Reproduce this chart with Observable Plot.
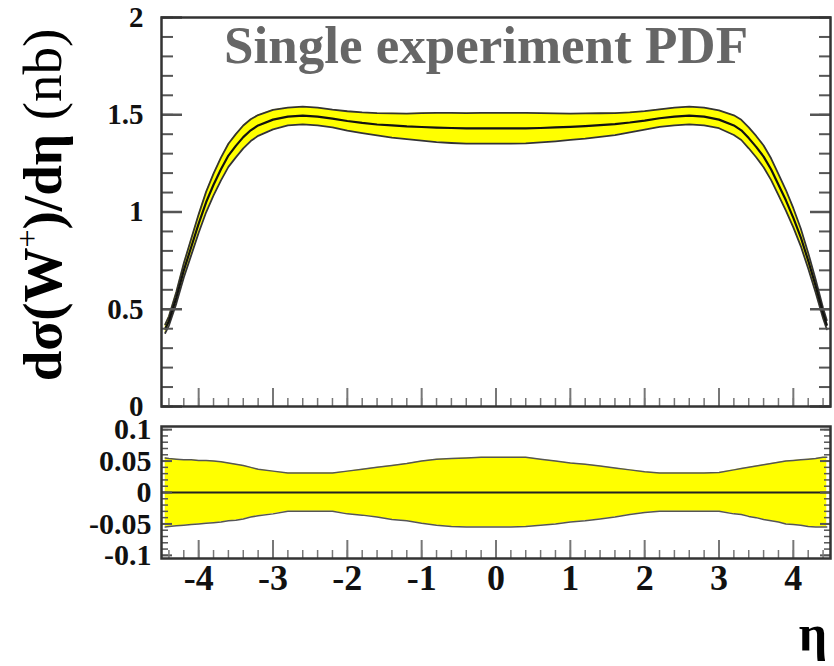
<!DOCTYPE html>
<html><head><meta charset="utf-8">
<script src="https://cdn.jsdelivr.net/npm/d3@7"></script>
<script src="https://cdn.jsdelivr.net/npm/@observablehq/plot@0.6"></script>
<style>
body{margin:0;background:#fff;}
#wrap{position:relative;width:834px;height:666px;overflow:hidden;background:#fff;}
#top,#bot{position:absolute;left:0;}
#top{top:0;z-index:1}
#bot{top:396px;z-index:2}
</style></head><body><div id="wrap"><div id="top"></div><div id="bot"></div></div>
<script>
// pseudorapidity grid
const eta = [-4.45,-4.4,-4.3,-4.2,-4.1,-4.0,-3.9,-3.8,-3.7,-3.6,
  -3.5,-3.4,-3.3,-3.2,-3.0,-2.8,-2.6,-2.4,-2.2,-2.0,
  -1.8,-1.6,-1.4,-1.2,-1.0,-0.8,-0.6,-0.4,-0.2,0,
  0.2,0.4,0.6,0.8,1.0,1.2,1.4,1.6,1.8,2.0,
  2.2,2.4,2.6,2.8,3.0,3.2,3.3,3.4,3.5,3.6,
  3.7,3.8,3.9,4.0,4.1,4.2,4.3,4.4,4.45];
// central dsigma/deta (nb)
const central = [0.40,0.44,0.56,0.70,0.82,0.94,1.05,1.14,1.22,1.29,
  1.34,1.385,1.42,1.445,1.475,1.49,1.495,1.49,1.48,1.468,
  1.458,1.45,1.445,1.44,1.437,1.434,1.432,1.43,1.43,1.43,
  1.43,1.43,1.432,1.435,1.438,1.442,1.447,1.452,1.46,1.47,
  1.482,1.49,1.495,1.49,1.475,1.445,1.42,1.38,1.335,1.285,
  1.22,1.14,1.06,0.97,0.87,0.75,0.62,0.48,0.42];
// relative uncertainty, upper edge
const relUp = [0.055,0.054,0.053,0.052,0.052,0.051,0.051,0.050,0.049,0.047,
  0.045,0.043,0.040,0.037,0.034,0.031,0.031,0.031,0.031,0.034,
  0.037,0.040,0.043,0.046,0.050,0.053,0.054,0.055,0.056,0.056,
  0.056,0.056,0.053,0.050,0.047,0.045,0.042,0.039,0.036,0.033,
  0.031,0.031,0.031,0.031,0.032,0.036,0.038,0.040,0.042,0.044,
  0.046,0.048,0.050,0.051,0.052,0.053,0.054,0.056,0.056];
// relative uncertainty, lower edge
const relDown = [-0.055,-0.054,-0.053,-0.052,-0.051,-0.050,-0.049,-0.048,-0.047,-0.045,
  -0.044,-0.042,-0.039,-0.037,-0.034,-0.030,-0.030,-0.030,-0.030,-0.034,
  -0.036,-0.039,-0.043,-0.045,-0.049,-0.052,-0.054,-0.055,-0.055,-0.055,
  -0.055,-0.054,-0.052,-0.050,-0.047,-0.045,-0.042,-0.039,-0.035,-0.032,
  -0.030,-0.030,-0.030,-0.030,-0.030,-0.034,-0.035,-0.038,-0.040,-0.043,
  -0.045,-0.047,-0.050,-0.051,-0.052,-0.054,-0.055,-0.055,-0.055];

const xMajor = [-4,-3,-2,-1,0,1,2,3,4];
const yTopMajor = [0,0.5,1,1.5,2];
const yTopLabels = ["0","0.5","1","1.5","2"];
const yBotMajor = [-0.1,-0.05,0,0.05,0.1];
const yBotLabels = ["-0.1","-0.05","0","0.05","0.1"];
const titleText = "Single experiment PDF";

const rows = eta.map((e,i)=>({eta:e, c:central[i],
  hi: central[i]*(1+relUp[i]), lo: central[i]*(1+relDown[i]),
  up: relUp[i], dn: relDown[i]}));

const serif = "'Liberation Serif','DejaVu Serif',serif";
const ML = 161, MR = 4;
const xDom = [-4.5, 4.5];
const xMinor = d3.range(-4.4, 4.41, 0.2).map(v=>+v.toFixed(2));
const yTopMinor = d3.range(0, 2.001, 0.1).map(v=>+v.toFixed(2));
const yBotMinor = d3.range(-0.1, 0.1001, 0.01).map(v=>+v.toFixed(3));
const tickColor = "#555";
const blank = () => "";

function tickY(anchor, ticks, size, stroke, sw) {
  return Plot.axisY({anchor, ticks, tickSize:size, tickFormat:blank, label:null, stroke, strokeWidth:sw});
}
function tickX(ticks, size, stroke, sw) {
  return Plot.axisX({anchor:"bottom", ticks, tickSize:size, tickFormat:blank, label:null, stroke, strokeWidth:sw});
}

const topPlot = Plot.plot({
  width: 834, height: 430, marginLeft: ML, marginRight: MR, marginTop: 17, marginBottom: 24,
  x: {domain: xDom}, y: {domain: [0,2]},
  style: {fontFamily: serif, background: "transparent", color: "#000"},
  marks: [
    Plot.areaY(rows, {x:"eta", y1:"lo", y2:"hi", fill:"#ffff00"}),
    Plot.line(rows, {x:"eta", y:"hi", stroke:"#333", strokeWidth:1.8}),
    Plot.line(rows, {x:"eta", y:"lo", stroke:"#333", strokeWidth:1.8}),
    Plot.line(rows, {x:"eta", y:"c", stroke:"#111", strokeWidth:2.2}),
    tickY("left", yTopMinor, -12, tickColor, 2),
    tickY("left", yTopMajor, -21, tickColor, 2.5),
    tickY("right", yTopMinor, -12, tickColor, 2),
    tickY("right", yTopMajor, -21, tickColor, 2.5),
    tickX(xMinor, -8, "#777", 1.5),
    tickX(xMajor, -18, "#777", 2),
    Plot.axisY({anchor:"left", ticks:yTopMajor, tickSize:0, tickPadding:18, label:null,
      tickFormat:(d)=>yTopLabels[yTopMajor.indexOf(d)], fontSize:29, fontWeight:"bold", fill:"#111"}),
    Plot.frame({stroke:"#333", strokeWidth:2.5}),
    Plot.text([titleText], {frameAnchor:"top", dx:-10, dy:8, fontSize:53, fontWeight:"bold",
      fill:"#666", fontFamily:serif})
  ]
});
document.getElementById("top").appendChild(topPlot);

// y axis title with superscript
const tsvg = d3.select(topPlot.tagName.toLowerCase() === "svg" ? topPlot : topPlot.querySelector("svg"));
const yt = tsvg.append("text")
  .attr("transform","translate(61,205) rotate(-90)")
  .attr("text-anchor","middle")
  .attr("font-family", serif).attr("font-size", 55).attr("fill","#000");
yt.append("tspan").attr("font-weight","bold").text("dσ(W");
yt.append("tspan").attr("font-weight","normal").attr("font-size",32).attr("dy",-23).text("+");
yt.append("tspan").attr("font-weight","bold").attr("dy",23).text(")/dη");
yt.append("tspan").attr("font-weight","normal").text(" (nb)");

const botPlot = Plot.plot({
  width: 834, height: 270, marginLeft: ML, marginRight: MR, marginTop: 30, marginBottom: 108,
  x: {domain: xDom}, y: {domain: [-0.105, 0.105]},
  style: {fontFamily: serif, background: "transparent", color: "#000"},
  marks: [
    Plot.areaY(rows, {x:"eta", y1:"dn", y2:"up", fill:"#ffff00"}),
    Plot.line(rows, {x:"eta", y:"up", stroke:"#555", strokeWidth:1.5}),
    Plot.line(rows, {x:"eta", y:"dn", stroke:"#555", strokeWidth:1.5}),
    Plot.ruleY([0], {stroke:"#222", strokeWidth:2}),
    tickY("left", yBotMinor, -7, tickColor, 1.5),
    tickY("left", yBotMajor, -11, tickColor, 2),
    tickY("right", yBotMinor, -7, tickColor, 1.5),
    tickY("right", yBotMajor, -11, tickColor, 2),
    tickX(xMinor, -8, "#777", 1.5),
    tickX(xMajor, -18, "#777", 2),
    Plot.axisY({anchor:"left", ticks:yBotMajor, tickSize:0, tickPadding:10, label:null,
      tickFormat:(d)=>yBotLabels[yBotMajor.indexOf(d)], fontSize:30, fontWeight:"bold", fill:"#111"}),
    Plot.axisX({anchor:"bottom", ticks:xMajor, tickSize:0, tickPadding:6, label:null,
      tickFormat:(d)=>String(d), fontSize:36, fontWeight:"bold", fill:"#111"}),
    Plot.frame({stroke:"#333", strokeWidth:2.5})
  ]
});
document.getElementById("bot").appendChild(botPlot);
const bsvg = d3.select(botPlot.tagName.toLowerCase() === "svg" ? botPlot : botPlot.querySelector("svg"));
bsvg.append("text").attr("x", 813).attr("y", 254)
  .attr("font-family", serif).attr("font-size", 50).attr("font-weight","bold")
  .attr("fill","#000").text("η");
</script></body></html>
